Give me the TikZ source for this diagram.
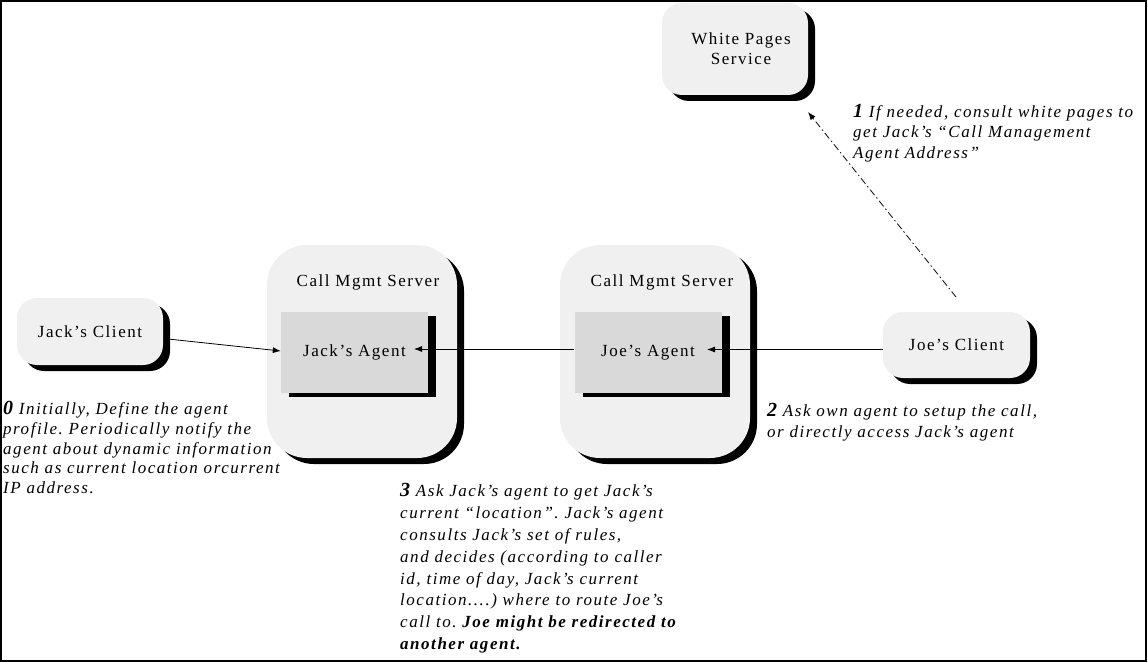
\documentclass[tikz,border=0pt]{standalone}
\usepackage{fontspec}
\setmainfont{Liberation Serif}[LetterSpace=9]
\usetikzlibrary{arrows.meta,shadows}
\definecolor{boxfill}{gray}{0.94}
\definecolor{agentfill}{gray}{0.85}
\newcommand{\stepno}[1]{{\fontsize{20}{20}\selectfont\bfseries #1}}
\frenchspacing
\begin{document}
\begin{tikzpicture}[x=1pt,y=-1pt,
  every node/.style={inner sep=0pt},
  service/.style={fill=boxfill, rounded corners=#1,
    drop shadow={shadow xshift=7pt, shadow yshift=-6pt, fill=black, opacity=1}},
  service/.default=20pt,
  agentbox/.style={fill=agentfill, minimum width=147pt, minimum height=81pt,
    drop shadow={shadow xshift=8pt, shadow yshift=-4pt, fill=black, opacity=1},
    font=\fontsize{17}{20}\selectfont},
  lbl/.style={font=\fontsize{17}{20}\selectfont, align=center},
  note/.style={anchor=north west, align=left, font=\fontsize{17}{#1}\selectfont\itshape},
  note/.default=20.5,
  link/.style={draw=black, line width=0.8pt, -{Latex[length=8pt,width=6pt]}},
]
\useasboundingbox (0,0) rectangle (1148,663);
\draw[line width=2pt] (1,1) rectangle (1146,661);

% services and clients
\node[service, minimum width=146pt, minimum height=92pt] (wp) at (735,49) {};
\node[lbl] (wplabel) at (741,49) {White Pages\\Service};

\node[service, minimum width=146pt, minimum height=67pt, lbl] (jclient) at (90,331.5) {Jack's Client};
\node[service, minimum width=147pt, minimum height=66pt, lbl] (oclient) at (956.5,345) {Joe's Client};

% call management servers with their agents
\node[service=40pt, minimum width=190pt, minimum height=213pt] (srvA) at (362,351.5) {};
\node[lbl] (srvAlabel) at (368,282) {Call Mgmt Server};
\node[agentbox] (jagent) at (354.5,352.5) {\raisebox{4pt}{Jack's Agent}};

\node[service=40pt, minimum width=190pt, minimum height=213pt] (srvB) at (655,351.5) {};
\node[lbl] (srvBlabel) at (662,282) {Call Mgmt Server};
\node[agentbox] (oagent) at (648,352.5) {\raisebox{4pt}{Joe's Agent}};

% connectors
\coordinate (jagentin) at (414,349);
\coordinate (oagentin) at (707,349.5);
\coordinate (wpin) at (808,112);
\coordinate (oclientup) at (956,297);

\draw[link] ([yshift=-7pt]jclient.east) -- ([yshift=1.5pt]jagent.west);
\draw[link] ([yshift=3.5pt]oagent.west) -- (jagentin);
\draw[link] ([yshift=-4.5pt]oclient.west) -- (oagentin);
\draw[link, dash pattern=on 7pt off 3pt on 1.5pt off 3pt] (oclientup) -- (wpin);

% step annotations
\node[note=20.5] (step1) at (853,104) {\stepno{1} If needed, consult white pages to\\get Jack's “Call Management\\Agent Address”};
\node[note=21] (step2) at (767,403) {\stepno{2} Ask own agent to setup the call,\\or directly access Jack's agent};
\node[note=19.8] (step0) at (3,401) {\stepno{0} Initially, Define the agent\\profile. Periodically notify the\\agent about dynamic information\\such as current location orcurrent\\IP address.};
\node[note=21.9] (step3) at (400,483) {\stepno{3} Ask Jack's agent to get Jack's\\current “location”. Jack's agent\\consults Jack's set of rules,\\and decides (according to caller\\id, time of day, Jack's current\\location....) where to route Joe's\\call to. \textbf{Joe might be redirected to}\\\textbf{another agent.}};
\end{tikzpicture}
\end{document}
